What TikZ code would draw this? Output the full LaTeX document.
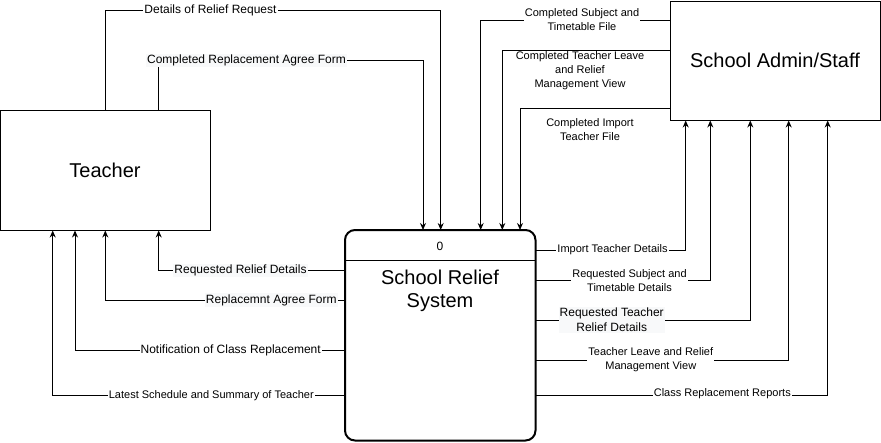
\documentclass[tikz,border=0pt]{standalone}
\usepackage{fontspec}
\setmainfont{Liberation Sans}
\usetikzlibrary{arrows.meta}
\definecolor{labbg}{RGB}{248,249,250}
\begin{document}
\begin{tikzpicture}[x=1pt,y=-1pt,
  entity/.style={draw, line width=1pt, inner sep=0pt, font=\fontsize{20}{24}\selectfont},
  flow/.style={draw, line width=1pt, -{Stealth[length=7pt,width=6pt]}},
  plain/.style={draw, line width=1pt},
  lab/.style={font=\fontsize{11}{14}\selectfont, align=center, fill=white, inner sep=1pt},
  labL/.style={font=\fontsize{12}{15}\selectfont, align=center, fill=white, inner sep=1pt},
  labG/.style={font=\fontsize{12}{15}\selectfont, align=center, fill=labbg, inner sep=1pt},
  labN/.style={font=\fontsize{11}{14}\selectfont, align=center, inner sep=0pt}]
\useasboundingbox (0,0) rectangle (881,442);

% entities
\node[entity, minimum width=210, minimum height=120] (teacher) at (105,170) {Teacher};
\node[entity, minimum width=210, minimum height=119] (admin) at (775,60.5) {School Admin/Staff};
\node[draw, line width=2pt, rounded corners=10pt, outer sep=0pt, inner sep=0pt,
      minimum width=190.5, minimum height=210.5] (sys) at (440.25,335.25) {};
\path (sys.north west) ++(0,30.7) coordinate (dl);
\path (sys.north east) ++(0,30.7) coordinate (dr);
\draw[line width=1.5pt] (dl) -- (dr);
\node[font=\fontsize{12}{14}\selectfont] (num) at (440,246) {0};
\node[font=\fontsize{20}{23}\selectfont, align=center] (title) at (440,291) {School Relief\\System};

% bend coordinates
\coordinate (t1a) at (105.3,10.7);  \coordinate (t1b) at (440.7,10.7);
\coordinate (t2a) at (158,60.3);    \coordinate (t2b) at (423,60.3);
\coordinate (a1) at (480.7,20);
\coordinate (a2) at (502.3,50.7);
\coordinate (a3) at (520,108.3);
\coordinate (s1) at (685.7,250);
\coordinate (s2) at (710.3,280.3);
\coordinate (s3) at (750.3,320);
\coordinate (s4) at (788.7,360);
\coordinate (s5) at (827.7,395);
\coordinate (r1) at (158.7,270.7);
\coordinate (r2) at (105.3,300);
\coordinate (r3) at (75,350);
\coordinate (r4) at (52.7,395);

% teacher -> system
\draw[flow] (teacher.north -| t1a) -- (t1a) -- (t1b) -- (t1b |- sys.north);
\draw[flow] (teacher.north -| t2a) -- (t2a) -- (t2b) -- (t2b |- sys.north);
% admin -> system
\draw[flow] (admin.west |- a1) -- (a1) -- (a1 |- sys.north);
\draw[flow] (admin.west |- a2) -- (a2) -- (a2 |- sys.north);
\draw[flow] (admin.west |- a3) -- (a3) -- (a3 |- sys.north);
% system -> admin
\draw[flow] (sys.east |- s1) -- (s1) -- (s1 |- admin.south);
\draw[flow] (sys.east |- s2) -- (s2) -- (s2 |- admin.south);
\draw[flow] (sys.east |- s3) -- (s3) -- (s3 |- admin.south);
\draw[flow] (sys.east |- s4) -- (s4) -- (s4 |- admin.south);
\draw[flow] (sys.east |- s5) -- (s5) -- (s5 |- admin.south);
% system -> teacher
\draw[flow] (sys.west |- r1) -- (r1) -- (r1 |- teacher.south);
\draw[flow] (sys.west |- r2) -- (r2) -- (r2 |- teacher.south);
\draw[flow] (sys.west |- r3) -- (r3) -- (r3 |- teacher.south);
\draw[flow] (sys.west |- r4) -- (r4) -- (r4 |- teacher.south);

% labels
\node[labL] (l1) at (210.5,10.7) {Details of Relief Request};
\node[labG] (l2) at (246.5,60.3) {Completed Replacement Agree Form};
\node[lab]  (l3) at (582,20) {Completed Subject and\\Timetable File};
\node[labN] (l4) at (580,71) {Completed Teacher Leave\\and Relief\\Management View};
\node[labN] (l5) at (590,130) {Completed Import\\Teacher File};
\node[lab]  (l6) at (612.5,250) {Import Teacher Details};
\node[lab]  (l7) at (629.5,280.3) {Requested Subject and\\Timetable Details};
\node[labG] (l8) at (611.7,320) {Requested Teacher\\Relief Details};
\node[lab]  (l9) at (650.8,360) {Teacher Leave and Relief\\Management View};
\node[lab]  (l10) at (722.3,394) {Class Replacement Reports};
\node[labG] (l11) at (240.5,270.7) {Requested Relief Details};
\node[labG] (l12) at (271.3,300) {Replacemnt Agree Form};
\node[labL] (l13) at (230.7,350) {Notification of Class Replacement};
\node[lab]  (l14) at (211.3,396) {Latest Schedule and Summary of Teacher};
\end{tikzpicture}
\end{document}
